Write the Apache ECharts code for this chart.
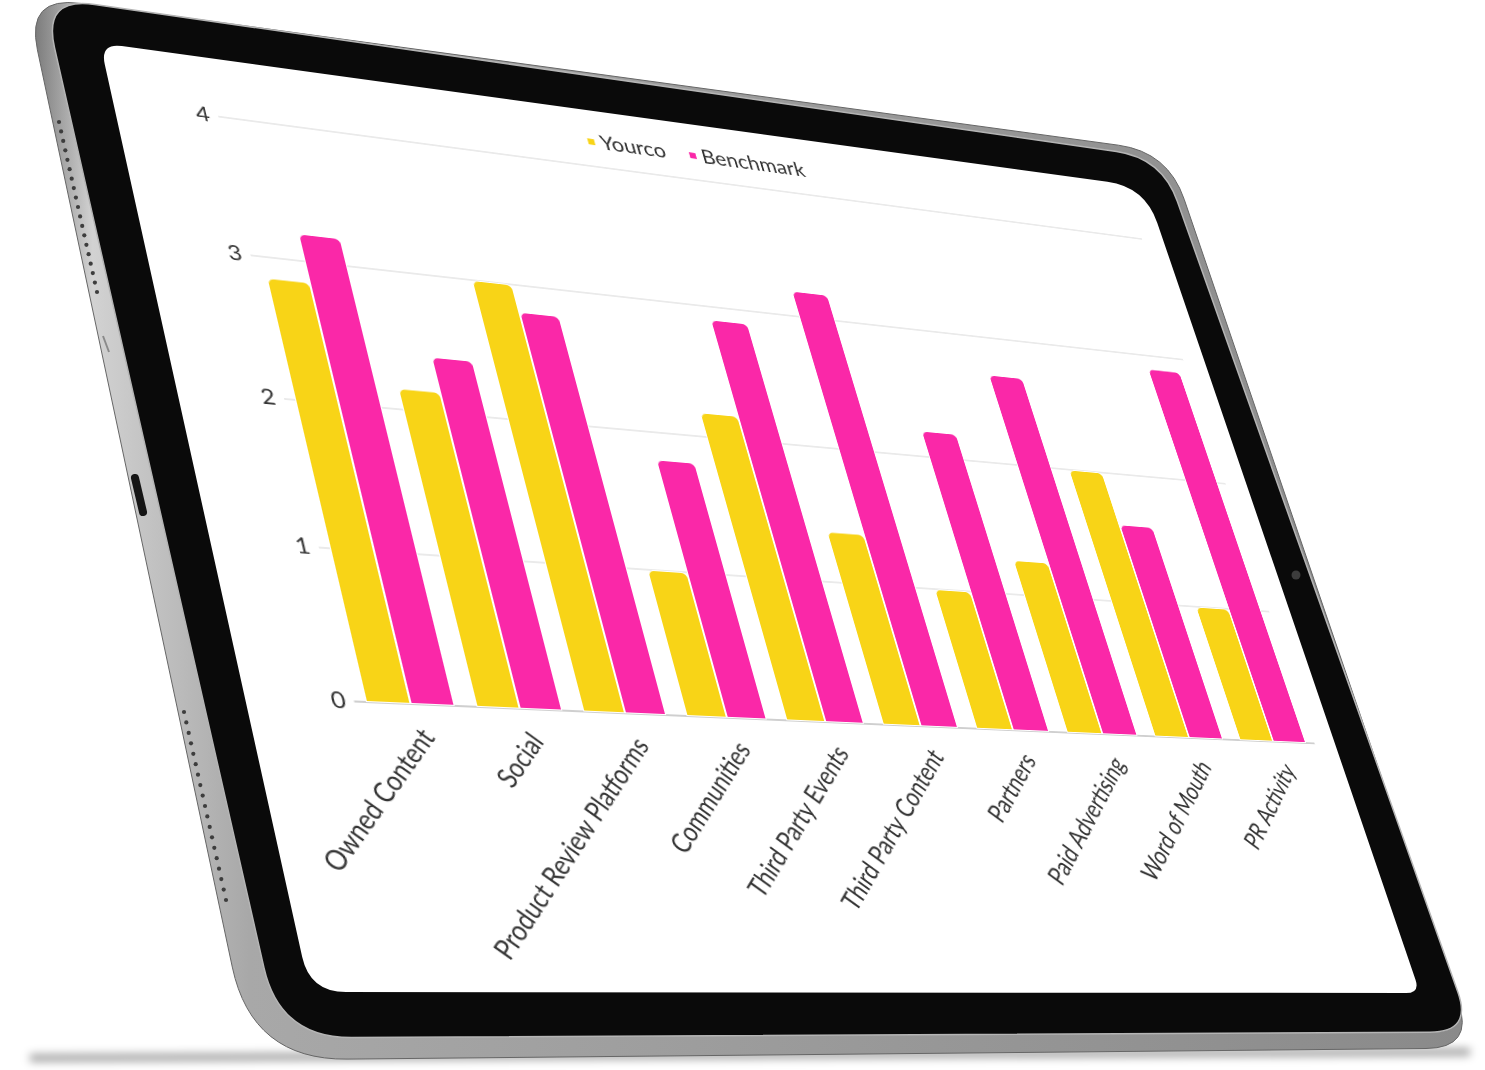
<!DOCTYPE html>
<html>
<head>
<meta charset="utf-8">
<title>Yourco vs Benchmark</title>
<script src="https://cdn.jsdelivr.net/npm/echarts@6/dist/echarts.min.js"></script>
<style>
  html, body { margin: 0; padding: 0; background: #fff; }
  #stage { position: relative; width: 1485px; height: 1070px; overflow: hidden; }
  #frame { position: absolute; left: 0; top: 0; }
  #plane { position: absolute; left: 0; top: 0; width: 1160px; height: 1000px; transform-origin: 0 0; }
</style>
</head>
<body>
<div id="stage">
  <svg id="frame" width="1485" height="1070"></svg>
  <div id="plane"></div>
</div>
<script>
// chart data
var categories = ['Owned Content', 'Social', 'Product Review Platforms', 'Communities',
  'Third Party Events', 'Third Party Content', 'Partners', 'Paid Advertising',
  'Word of Mouth', 'PR Activity'];
var yourco    = [2.85, 2.15, 3.0, 1.0, 2.18, 1.37, 1.0, 1.26, 2.0, 1.0];
var benchmark = [3.2, 2.4, 2.8, 1.8, 2.9, 3.2, 2.2, 2.7, 1.6, 2.89];
var seriesNames = ['Yourco', 'Benchmark'];
var yMin = 0, yMax = 4, yStep = 1;

// flat layout of the chart before it is laid onto the tablet screen
var GL = 80, GT = 80, GW = 1000, GH = 600;
var innerL = GL + GW * 0.01, innerW = GW * 0.98;   // bar span (20% category gap)

// where the plot corners sit in the photo (value 4 left, 4 right, 0 right, 0 left)
var quad = [[229, 118], [1134, 238], [1306, 743], [366, 702]];

function squareToQuad(q) {
  var x0 = q[0][0], y0 = q[0][1], x1 = q[1][0], y1 = q[1][1];
  var x2 = q[2][0], y2 = q[2][1], x3 = q[3][0], y3 = q[3][1];
  var dx1 = x1 - x2, dx2 = x3 - x2, dx3 = x0 - x1 + x2 - x3;
  var dy1 = y1 - y2, dy2 = y3 - y2, dy3 = y0 - y1 + y2 - y3;
  var den = dx1 * dy2 - dx2 * dy1;
  var g = (dx3 * dy2 - dx2 * dy3) / den;
  var h = (dx1 * dy3 - dx3 * dy1) / den;
  return [[x1 - x0 + g * x1, x3 - x0 + h * x3, x0],
          [y1 - y0 + g * y1, y3 - y0 + h * y3, y0],
          [g, h, 1]];
}
function mul(a, b) {
  var r = [[0,0,0],[0,0,0],[0,0,0]];
  for (var i = 0; i < 3; i++)
    for (var j = 0; j < 3; j++)
      for (var k = 0; k < 3; k++) r[i][j] += a[i][k] * b[k][j];
  return r;
}
function inv(m) {
  var a = m[0][0], b = m[0][1], c = m[0][2], d = m[1][0], e = m[1][1], f = m[1][2], g = m[2][0], h = m[2][1], i = m[2][2];
  var A = e*i - f*h, B = -(d*i - f*g), C = d*h - e*g;
  var det = a*A + b*B + c*C;
  return [[A/det, -(b*i - c*h)/det, (b*f - c*e)/det],
          [B/det, (a*i - c*g)/det, -(a*f - c*d)/det],
          [C/det, -(a*h - b*g)/det, (a*e - b*d)/det]];
}
function apply(m, x, y) {
  var w = m[2][0]*x + m[2][1]*y + m[2][2];
  return [(m[0][0]*x + m[0][1]*y + m[0][2]) / w, (m[1][0]*x + m[1][1]*y + m[1][2]) / w];
}

var S = [[1 / innerW, 0, -innerL / innerW], [0, 1 / GH, -GT / GH], [0, 0, 1]];
var M = mul(squareToQuad(quad), S);
var plane = document.getElementById('plane');
plane.style.transform = 'matrix3d(' + [M[0][0], M[1][0], 0, M[2][0], M[0][1], M[1][1], 0, M[2][1],
  0, 0, 1, 0, M[0][2], M[1][2], 0, M[2][2]].join(',') + ')';
var lp = apply(inv(M), 696, 154);   // legend centre

// tablet frame, drawn straight in photo coordinates
function roundPath(pts, r) {
  var d = '', n = pts.length;
  for (var i = 0; i < n; i++) {
    var p = pts[i], pp = pts[(i + n - 1) % n], pn = pts[(i + 1) % n];
    var l1 = Math.hypot(pp[0] - p[0], pp[1] - p[1]), l2 = Math.hypot(pn[0] - p[0], pn[1] - p[1]);
    var a = [p[0] + (pp[0] - p[0]) * r[i] / l1, p[1] + (pp[1] - p[1]) * r[i] / l1];
    var b = [p[0] + (pn[0] - p[0]) * r[i] / l2, p[1] + (pn[1] - p[1]) * r[i] / l2];
    d += (i ? 'L' : 'M') + a[0].toFixed(1) + ',' + a[1].toFixed(1) +
      'Q' + p[0] + ',' + p[1] + ' ' + b[0].toFixed(1) + ',' + b[1].toFixed(1);
  }
  return d + 'Z';
}
var body   = roundPath([[26, -4], [1168, 152], [1474, 1048], [252, 1060]], [55, 50, 48, 95]);
var bezel  = roundPath([[43, -3], [1162, 158], [1472, 1032], [280, 1038]], [52, 46, 42, 72]);
var screen = roundPath([[100, 43], [1145, 187], [1420, 993], [310, 992]], [22, 38, 14, 36]);

var dots = '';
for (var k = 0; k < 19; k++) {
  var t = k / 18;
  dots += '<circle cx="' + (59 + 38 * t).toFixed(1) + '" cy="' + (122 + 170 * t).toFixed(1) + '" r="2.1" fill="#3d3d3d"/>';
  dots += '<circle cx="' + (184 + 42 * t).toFixed(1) + '" cy="' + (712 + 188 * t).toFixed(1) + '" r="2.1" fill="#3d3d3d"/>';
}
document.getElementById('frame').innerHTML =
  '<defs>' +
  '<linearGradient id="silver" x1="0" y1="0" x2="1" y2="0">' +
  '<stop offset="0" stop-color="#7c7c7c"/><stop offset="0.04" stop-color="#d2d2d2"/>' +
  '<stop offset="0.15" stop-color="#a8a8a8"/><stop offset="1" stop-color="#8a8a8a"/></linearGradient>' +
  '<filter id="blur" x="-5%" y="-200%" width="110%" height="500%"><feGaussianBlur stdDeviation="4"/></filter>' +
  '</defs>' +
  '<path d="M30,1058 L1470,1052" stroke="rgba(0,0,0,0.35)" stroke-width="8" filter="url(#blur)"/>' +
  '<path d="' + body + '" fill="url(#silver)" stroke="#666" stroke-width="1"/>' +
  dots +
  '<path d="M135,478 L143,512" stroke="#151515" stroke-width="8" stroke-linecap="round"/>' +
  '<path d="' + bezel + '" fill="#0a0a0a" stroke="#b5b5b5" stroke-width="1.5"/>' +
  '<path d="M103,336 L109,352" stroke="#8a8a8a" stroke-width="2"/>' +
  '<path d="' + screen + '" fill="#ffffff"/>' +
  '<circle cx="1296" cy="575" r="4.5" fill="#3c3c3c"/>';

var chart = echarts.init(plane, null, { renderer: 'canvas', devicePixelRatio: 2 });
chart.setOption({
  animation: false,
  textStyle: { fontFamily: 'Lato' },
  legend: {
    data: seriesNames,
    left: lp[0] - 123,
    top: lp[1] - 14,
    icon: 'rect',
    itemWidth: 9,
    itemHeight: 9,
    itemGap: 24,
    textStyle: { fontSize: 23, color: '#333', fontFamily: 'Lato' }
  },
  grid: { left: GL, top: GT, width: GW, height: GH, containLabel: false },
  xAxis: {
    type: 'category',
    data: categories,
    axisTick: { show: false },
    axisLine: { lineStyle: { color: '#c4c4c4', width: 1.5 } },
    axisLabel: {
      interval: 0, rotate: 49, fontSize: 24.5, color: '#333', margin: 19,
      align: 'right', verticalAlign: 'top', fontFamily: 'Lato'
    }
  },
  yAxis: {
    type: 'value', min: yMin, max: yMax, interval: yStep,
    axisLine: { show: false },
    axisTick: { show: false },
    axisLabel: { fontSize: 22, color: '#333', margin: 8, fontFamily: 'Lato' },
    splitLine: { lineStyle: { color: '#e3e3e3', width: 1.5 } }
  },
  series: [
    {
      name: seriesNames[0], type: 'bar', data: yourco,
      barGap: '0%', barCategoryGap: '20%',
      itemStyle: { color: '#F8D417', borderRadius: [6, 6, 0, 0], borderColor: '#fff', borderWidth: 1 }
    },
    {
      name: seriesNames[1], type: 'bar', data: benchmark,
      barGap: '0%', barCategoryGap: '20%',
      itemStyle: { color: '#FA28A8', borderRadius: [6, 6, 0, 0], borderColor: '#fff', borderWidth: 1 }
    }
  ]
});
</script>
</body>
</html>
